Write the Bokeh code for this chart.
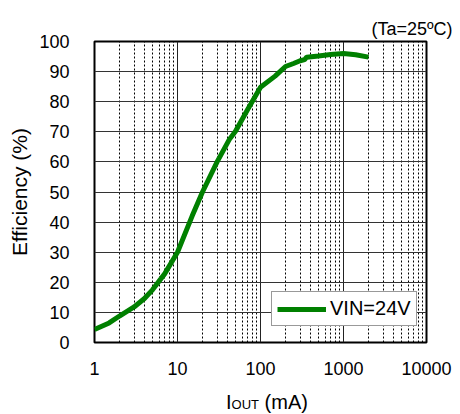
from bokeh.plotting import figure
from bokeh.models import Range1d, FixedTicker, Legend, LegendItem, ColumnDataSource, Title, Div
from bokeh.layouts import column
from bokeh.embed import file_html
from bokeh.resources import INLINE

iout_ma = [1, 1.5, 2, 3, 4, 5, 7, 10, 15, 20, 30, 42, 50, 70, 100, 150, 200, 250, 300, 340, 360, 500, 700, 1000, 1400, 2000]
efficiency = [4.3, 6.5, 8.8, 11.8, 14.6, 17.5, 22.8, 30, 42, 50, 60, 67.4, 70.2, 77.4, 84.8, 88.5, 91.7, 92.7, 93.6, 94.0, 94.8, 95.2, 95.7, 96.0, 95.6, 94.8]
x_ticks = [1, 10, 100, 1000, 10000]
x_minor_ticks = [2, 3, 4, 5, 6, 7, 8, 9, 20, 30, 40, 50, 60, 70, 80, 90,
                 200, 300, 400, 500, 600, 700, 800, 900, 2000, 3000, 4000, 5000, 6000, 7000, 8000, 9000]
y_ticks = [0, 10, 20, 30, 40, 50, 60, 70, 80, 90, 100]
series_name = "VIN=24V"
condition_text = "(Ta=25ºC)"

FONT = "Liberation Sans"

p = figure(width=452, height=385, x_axis_type="log",
           x_range=Range1d(1, 10000), y_range=Range1d(0, 100),
           output_backend="svg", toolbar_location=None,
           min_border_left=94, min_border_right=26, min_border_top=41, min_border_bottom=43)

p.outline_line_color = "black"
p.outline_line_width = 2

p.title = Title(text=condition_text, align="left", offset=277, standoff=6,
                text_font=FONT, text_font_size="18px", text_font_style="normal",
                text_color="black")

# axes
p.xaxis.ticker = FixedTicker(ticks=x_ticks, minor_ticks=x_minor_ticks)
p.xaxis.major_label_overrides = {t: str(t) for t in x_ticks}
p.yaxis.ticker = FixedTicker(ticks=y_ticks)
for ax in (p.xaxis, p.yaxis):
    ax.axis_line_color = None
    ax.major_tick_line_color = None
    ax.minor_tick_line_color = None
    ax.major_label_text_font = FONT
    ax.major_label_text_font_size = "18px"
    ax.major_label_text_color = "black"
p.xaxis.major_label_standoff = 13
p.yaxis.major_label_standoff = 19
p.yaxis.axis_label = "Efficiency (%)"
p.yaxis.axis_label_text_font = FONT
p.yaxis.axis_label_text_font_size = "21px"
p.yaxis.axis_label_text_font_style = "normal"
p.yaxis.axis_label_text_color = "black"
p.yaxis.axis_label_standoff = 5

# grids
p.xgrid.grid_line_color = "#222222"
p.xgrid.grid_line_width = 1
p.xgrid.minor_grid_line_color = "black"
p.xgrid.minor_grid_line_dash = "2 2"
p.xgrid.minor_grid_line_width = 1
p.ygrid.grid_line_color = "#333333"
p.ygrid.grid_line_width = 1

src = ColumnDataSource(dict(x=iout_ma, y=efficiency))
r = p.line("x", "y", source=src, line_color="#008000", line_width=5)

legend = Legend(items=[LegendItem(label=series_name, renderers=[r])],
                location=(177, 16), orientation="vertical")
legend.label_text_font = FONT
legend.label_text_font_size = "20px"
legend.label_text_color = "black"
legend.glyph_width = 49
legend.glyph_height = 20
legend.label_height = 20
legend.label_standoff = 4
legend.padding = 5
legend.margin = 0
legend.spacing = 0
legend.border_line_color = "#333333"
legend.border_line_width = 1
legend.background_fill_color = "white"
legend.background_fill_alpha = 1
p.add_layout(legend, "center")

xlabel = Div(
    text=('<div style="font-family:\'Liberation Sans\'; color:black; padding-left:221px; '
          'padding-top:2px; line-height:20px; white-space:nowrap;">'
          '<span style="font-size:20px;">I</span>'
          '<span style="font-size:13px;">OUT</span>'
          '<span style="font-size:20px;"> (mA)</span></div>'),
    width=452, height=24)

layout = column(p, xlabel, spacing=0)

open("out.html", "w").write(file_html(layout, INLINE))
